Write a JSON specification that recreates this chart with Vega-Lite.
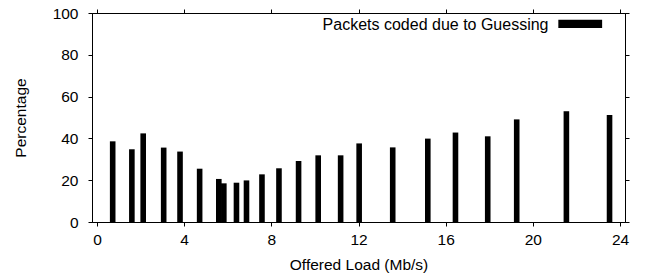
{
  "$schema": "https://vega.github.io/schema/vega-lite/v6.json",
  "width": 533,
  "height": 209,
  "autosize": {"type": "none"},
  "padding": {"left": 92, "top": 13, "right": 22, "bottom": 58},
  "config": {
    "font": "Liberation Sans",
    "view": {"stroke": "black", "strokeWidth": 1},
    "axis": {
      "grid": false,
      "domainColor": "black",
      "tickColor": "black",
      "tickSize": 4,
      "labelColor": "black",
      "labelFontSize": 15.5,
      "titleFontSize": 15.5,
      "titleFontWeight": "normal",
      "titleColor": "black",
      "labelFont": "Liberation Sans",
      "titleFont": "Liberation Sans"
    }
  },
  "data": {
    "values": [
      {"load": 0.72, "pct": 38.6},
      {"load": 1.60, "pct": 34.8},
      {"load": 2.12, "pct": 42.4},
      {"load": 3.06, "pct": 35.6},
      {"load": 3.81, "pct": 33.7},
      {"load": 4.71, "pct": 25.5},
      {"load": 5.59, "pct": 20.6},
      {"load": 5.82, "pct": 18.5},
      {"load": 6.40, "pct": 18.8},
      {"load": 6.86, "pct": 19.9},
      {"load": 7.57, "pct": 22.8},
      {"load": 8.35, "pct": 25.7},
      {"load": 9.25, "pct": 29.2},
      {"load": 10.15, "pct": 31.9},
      {"load": 11.18, "pct": 31.9},
      {"load": 12.03, "pct": 37.6},
      {"load": 13.57, "pct": 35.7},
      {"load": 15.18, "pct": 39.9},
      {"load": 16.45, "pct": 42.8},
      {"load": 17.93, "pct": 41.0},
      {"load": 19.26, "pct": 49.1},
      {"load": 21.54, "pct": 53.0},
      {"load": 23.52, "pct": 51.2}
    ]
  },
  "layer": [
    {
      "mark": {"type": "bar", "width": 5.6, "color": "black"},
      "encoding": {
        "x": {
          "field": "load", "type": "quantitative",
          "scale": {"domain": [0, 24], "nice": false, "zero": false},
          "axis": {"orient": "bottom", "values": [0, 4, 8, 12, 16, 20, 24], "title": "Offered Load (Mb/s)", "labelPadding": 6, "titlePadding": 10}
        },
        "y": {
          "field": "pct", "type": "quantitative",
          "scale": {"domain": [0, 100], "nice": false},
          "axis": {"orient": "left", "values": [0, 20, 40, 60, 80, 100], "title": "Percentage", "labelPadding": 10, "titlePadding": 24}
        }
      }
    },
    {
      "mark": {"type": "bar", "width": 5.6, "opacity": 0},
      "encoding": {
        "x": {
          "field": "load", "type": "quantitative",
          "axis": {"orient": "top", "values": [0, 4, 8, 12, 16, 20, 24], "labels": false, "title": null}
        },
        "y": {
          "field": "pct", "type": "quantitative",
          "axis": {"orient": "right", "values": [0, 20, 40, 60, 80, 100], "labels": false, "title": null}
        }
      }
    },
    {
      "data": {"values": [{}]},
      "mark": {"type": "text", "align": "right", "baseline": "alphabetic", "fontSize": 16, "font": "Liberation Sans", "color": "black"},
      "encoding": {
        "x": {"datum": 20.72, "type": "quantitative", "axis": null},
        "y": {"datum": 92.0, "type": "quantitative", "axis": null},
        "text": {"value": "Packets coded due to Guessing"}
      }
    },
    {
      "data": {"values": [{}]},
      "mark": {"type": "rect", "color": "black"},
      "encoding": {
        "x": {"datum": 21.17, "type": "quantitative", "axis": null},
        "x2": {"datum": 23.18},
        "y": {"datum": 96.8, "type": "quantitative", "axis": null},
        "y2": {"datum": 92.8}
      }
    }
  ],
  "resolve": {"axis": {"x": "independent", "y": "independent"}}
}
